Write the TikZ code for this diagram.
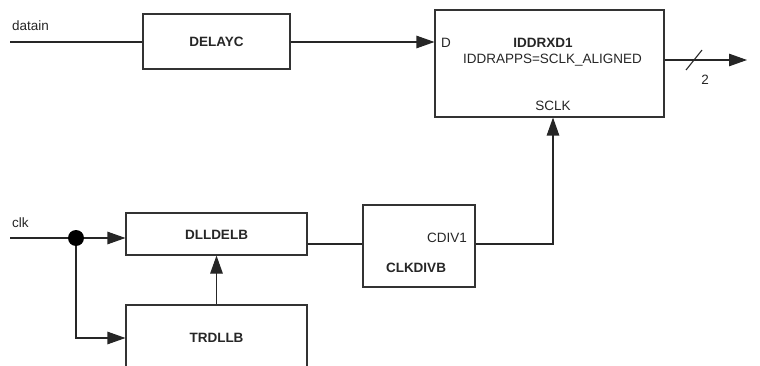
\documentclass[tikz,border=0pt]{standalone}
\usepackage{fontspec}
\setmainfont{Liberation Sans}
\usetikzlibrary{arrows.meta}
\begin{document}
\begin{tikzpicture}[x=1pt,y=-1pt,
  every node/.style={font=\fontsize{13.5}{16}\selectfont, text=black!85, inner sep=0pt},
  blk/.style={draw=black!80, line width=1.1pt, rectangle, fill=white},
  lbl/.style={font=\fontsize{13.5}{16}\selectfont\bfseries},
  wire/.style={draw=black!85, line width=1.1pt},
  arr/.style={wire, -{Triangle[length=18pt,width=12.5pt]}},
  junction/.style={circle, fill=black, minimum size=16pt}]
\useasboundingbox (0,0) rectangle (760,366);
\clip (0,0) rectangle (760,366);
% blocks
\node[blk, minimum width=147pt, minimum height=55pt] (delayc) at (216.5,41.5) {};
\node[lbl] (delaycT) at (216.5,42) {DELAYC};
\node[blk, minimum width=229pt, minimum height=107pt] (iddr) at (549.5,63.5) {};
\node[lbl] (iddrT) at (543,43) {IDDRXD1};
\node (iddrP) at (552.5,60) {IDDRAPPS=SCLK\_ALIGNED};
\node[anchor=west] (iddrD) at (441,43) {D};
\node (iddrS) at (553,106) {SCLK};
\node[blk, minimum width=112pt, minimum height=82pt] (clkdiv) at (419,246) {};
\node[anchor=east] (cdiv) at (467,238) {CDIV1};
\node[lbl] (clkdivT) at (416,268) {CLKDIVB};
\node[blk, minimum width=181pt, minimum height=42pt] (dll) at (216.5,234) {};
\node[lbl] (dllT) at (216.5,234.5) {DLLDELB};
\node[blk, minimum width=181pt, minimum height=66pt] (trd) at (216.5,338) {};
\node[lbl] (trdT) at (216.5,338) {TRDLLB};
% labels
\node[anchor=base west] (datainT) at (12,31) {datain};
\node[anchor=base west] (clkT) at (12,227) {clk};
% connectors
\coordinate (datainL) at (10,42);
\draw[wire] (datainL) -- (datainL -| delayc.west);
\draw[arr] (datainL -| delayc.east) -- (datainL -| iddr.west);
\coordinate (outE) at (747,60);
\draw[arr] (outE -| iddr.east) -- (outE);
\draw[wire] (686,70) -- (702,50);
\node (two) at (705,80) {2};
\coordinate (turn) at (553,244);
\draw[arr] (turn -| clkdiv.east) -- (turn) -- (turn |- iddr.south);
\draw[wire] (turn -| dll.east) -- (turn -| clkdiv.west);
\coordinate (clkL) at (10,238);
\node[junction] (dot) at (76,238) {};
\draw[wire] (clkL) -- (dot);
\draw[arr] (dot) -- (dot -| dll.west);
\draw[arr] (dot) |- (trd.west);
\draw[arr] (trd.north) -- (dll.south);
\end{tikzpicture}
\end{document}
